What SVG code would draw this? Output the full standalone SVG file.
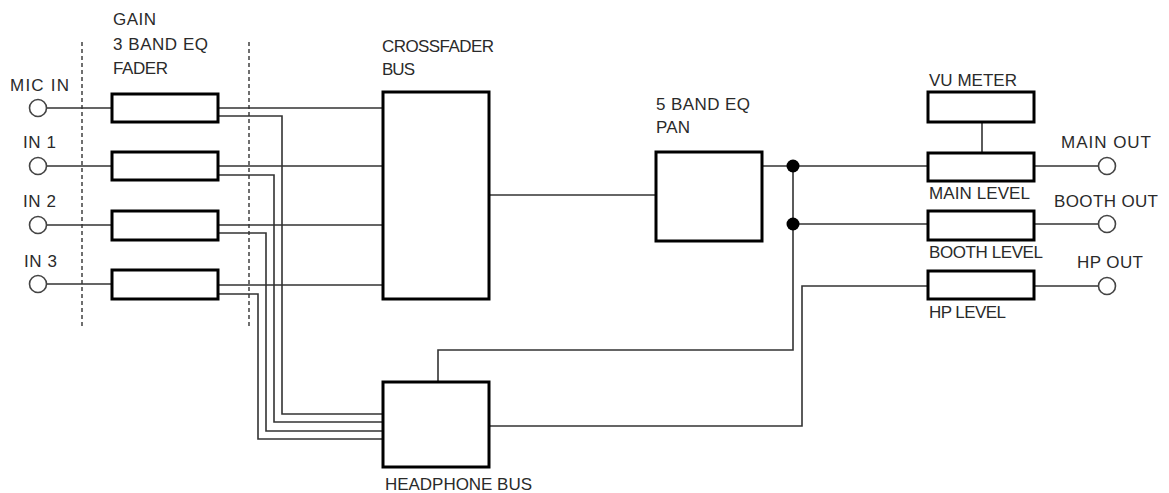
<svg xmlns="http://www.w3.org/2000/svg" width="1169" height="493" viewBox="0 0 1169 493">
<style>
text{font-family:"Liberation Sans",Arial,sans-serif;font-size:17px;fill:#2a2a2a}
.box{fill:#fff;stroke:#000;stroke-width:3}
.w{fill:none;stroke:#333;stroke-width:1.6}
.dash{fill:none;stroke:#333;stroke-width:1.4;stroke-dasharray:4 3}
.jack{fill:#fff;stroke:#444;stroke-width:1.6}
.dot{fill:#000}
</style>
<rect width="1169" height="493" fill="#fff"/>
<g id="guides">
<line class="dash" x1="82" y1="42" x2="82" y2="326"/>
<line class="dash" x1="249" y1="42" x2="249" y2="326"/>
</g>
<g id="connectors">
<path class="w" d="M47 108H112M47 166H112M47 225H112M47 284H112"/>
<path class="w" d="M218 108H383M218 166H383M218 225H383M218 285H383"/>
<path class="w" d="M218 116H282V414H383"/>
<path class="w" d="M218 175H274V422H383"/>
<path class="w" d="M218 233H266V431H383"/>
<path class="w" d="M218 294H258V439H383"/>
<path class="w" d="M489 195H656"/>
<path class="w" d="M762 166H928M793 224H928"/>
<path class="w" d="M793 166V350H438V382"/>
<path class="w" d="M489 426H802V286H928"/>
<path class="w" d="M982 122V153"/>
<path class="w" d="M1034 166H1099M1034 224H1099M1034 286H1099"/>
<circle class="dot" cx="793" cy="166" r="6.5"/>
<circle class="dot" cx="793" cy="224" r="6.5"/>
</g>
<g id="in-mic"><circle class="jack" cx="38" cy="108" r="8.5"/><text x="10" y="91" textLength="59">MIC IN</text></g>
<g id="in-1"><circle class="jack" cx="38" cy="166" r="8.5"/><text x="23" y="148" textLength="33">IN 1</text></g>
<g id="in-2"><circle class="jack" cx="38" cy="225" r="8.5"/><text x="23" y="207" textLength="33">IN 2</text></g>
<g id="in-3"><circle class="jack" cx="38" cy="284" r="8.5"/><text x="24" y="267" textLength="33">IN 3</text></g>
<g id="channel-labels">
<text x="113" y="25" textLength="43">GAIN</text>
<text x="113" y="50" textLength="95">3 BAND EQ</text>
<text x="113" y="74" textLength="55">FADER</text>
</g>
<g id="ch-mic"><rect class="box" x="112" y="94" width="106" height="28"/></g>
<g id="ch-1"><rect class="box" x="112" y="152" width="106" height="28"/></g>
<g id="ch-2"><rect class="box" x="112" y="211" width="106" height="29"/></g>
<g id="ch-3"><rect class="box" x="112" y="270" width="106" height="29"/></g>
<g id="crossfader-bus">
<rect class="box" x="383" y="92" width="106" height="207"/>
<text x="382" y="52" textLength="112">CROSSFADER</text>
<text x="382" y="75" textLength="33">BUS</text>
</g>
<g id="headphone-bus">
<rect class="box" x="383" y="382" width="106" height="85"/>
<text x="385" y="490" textLength="147">HEADPHONE BUS</text>
</g>
<g id="eq-pan">
<rect class="box" x="656" y="152" width="106" height="89"/>
<text x="656" y="110" textLength="94">5 BAND EQ</text>
<text x="656" y="133" textLength="34">PAN</text>
</g>
<g id="vu-meter">
<rect class="box" x="928" y="92" width="106" height="30"/>
<text x="929" y="86" textLength="88">VU METER</text>
</g>
<g id="main-level">
<rect class="box" x="928" y="153" width="106" height="28"/>
<text x="929" y="199" textLength="101">MAIN LEVEL</text>
</g>
<g id="booth-level">
<rect class="box" x="928" y="211" width="106" height="29"/>
<text x="929" y="258" textLength="114">BOOTH LEVEL</text>
</g>
<g id="hp-level">
<rect class="box" x="928" y="271" width="106" height="28"/>
<text x="929" y="318" textLength="77">HP LEVEL</text>
</g>
<g id="main-out"><circle class="jack" cx="1107" cy="166" r="8.5"/><text x="1061" y="148" textLength="90">MAIN OUT</text></g>
<g id="booth-out"><circle class="jack" cx="1107" cy="224" r="8.5"/><text x="1054" y="207" textLength="104">BOOTH OUT</text></g>
<g id="hp-out"><circle class="jack" cx="1107" cy="286" r="8.5"/><text x="1077" y="268" textLength="66">HP OUT</text></g>
</svg>
